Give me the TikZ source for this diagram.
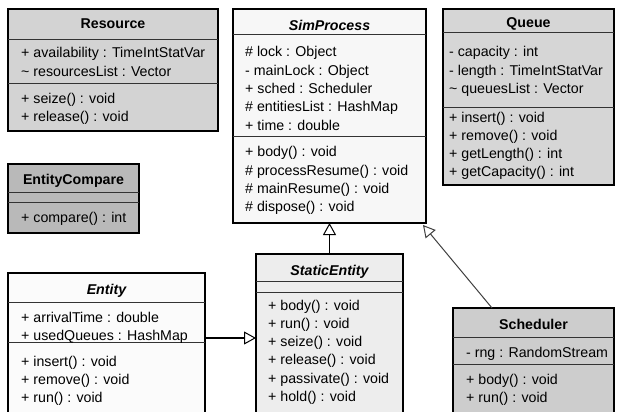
\documentclass[tikz,border=0pt]{standalone}
\usepackage{fontspec}
\setmainfont{Liberation Sans}
\usetikzlibrary{arrows.meta}
\definecolor{gA}{HTML}{D3D3D3}
\definecolor{gQ}{HTML}{D6D6D6}
\definecolor{gE}{HTML}{B9B9B9}
\definecolor{gS}{HTML}{CDCDCD}
\definecolor{wS}{HTML}{F7F7F7}
\definecolor{wT}{HTML}{EDEDED}
\definecolor{wE}{HTML}{FBFBFB}
\tikzset{
  classbox/.style={draw=black, line width=1.7pt, inner sep=0pt, outer sep=0pt, anchor=north west},
  sep/.style={draw=black!80, line width=0.9pt},
  txt/.style={inner sep=0pt, anchor=base west, font=\fontsize{14.2}{16}\selectfont},
  hdr/.style={inner sep=0pt, anchor=base, font=\fontsize{14.2}{16}\selectfont\bfseries},
  ahdr/.style={hdr, font=\fontsize{14.2}{16}\selectfont\bfseries\itshape},
  inh/.style={draw=black, line width=1.4pt, -{Triangle[open, length=12pt, width=13pt, line width=1pt]}},
}
\newcommand\mlist[4]{\foreach \t [count=\i] in {#4} {\node[txt] (#3\i) at (#1,{-#2-(\i-1)*18.3}) {\t};}}
\newcommand\umlbox[7]{% name, x1, y1, x2, y2, fill, -
  \node[classbox, fill=#6, minimum width={#4-#2}, minimum height={#5-#3}] (#1) at (#2,-#3) {};}
\begin{document}
\begin{tikzpicture}[x=1pt, y=1pt]
\clip (0,0) rectangle (619,-412);
\fill[white] (0,0) rectangle (619,-412);

% Resource
\umlbox{res}{8}{9}{218}{131}{gA}{}
\draw[sep] (8,-39) -- (218,-39);
\draw[sep] (8,-83) -- (218,-83);
\node[hdr] (resh) at (113,-29) {Resource};
\mlist{21}{58}{resa}{{+ availability : TimeIntStatVar},{\textasciitilde\ resourcesList : Vector}}
\mlist{21}{103}{resm}{{+ seize() : void},{+ release() : void}}

% SimProcess
\umlbox{sim}{233}{9}{426}{223}{wS}{}
\draw[sep] (233,-34) -- (426,-34);
\draw[sep] (233,-136) -- (426,-136);
\node[ahdr] (simh) at (329.5,-31) {SimProcess};
\mlist{245}{57}{sima}{{\# lock : Object},{- mainLock : Object},{+ sched : Scheduler},{\# entitiesList : HashMap},{+ time : double}}
\mlist{245}{157}{simm}{{+ body() : void},{\# processResume() : void},{\# mainResume() : void},{\# dispose() : void}}

% Queue
\umlbox{que}{443}{9}{614}{185}{gQ}{}
\draw[sep] (443,-32) -- (614,-32);
\draw[sep] (443,-107) -- (614,-107);
\node[hdr] (queh) at (528.5,-28) {Queue};
\mlist{449}{57}{quea}{{- capacity : int},{- length : TimeIntStatVar},{\textasciitilde\ queuesList : Vector}}
\mlist{449}{122}{quem}{{+ insert() : void},{+ remove() : void},{+ getLength() : int},{+ getCapacity() : int}}

% EntityCompare
\umlbox{ecmp}{8}{164}{139}{233}{gE}{}
\draw[sep] (8,-192) -- (139,-192);
\draw[sep] (8,-202) -- (139,-202);
\node[hdr] (ecmph) at (73.5,-184) {EntityCompare};
\mlist{21}{222}{ecmpm}{{+ compare() : int}}

% Entity
\umlbox{ent}{8}{273}{205}{416}{wE}{}
\draw[sep] (8,-302) -- (205,-302);
\draw[sep] (8,-342) -- (205,-342);
\node[ahdr] (enth) at (106.5,-294) {Entity};
\mlist{21}{322}{enta}{{+ arrivalTime : double},{+ usedQueues : HashMap}}
\mlist{21}{366}{entm}{{+ insert() : void},{+ remove() : void},{+ run() : void}}

% StaticEntity
\umlbox{sta}{256}{254}{403}{416}{wT}{}
\draw[sep] (256,-281) -- (403,-281);
\draw[sep] (256,-292) -- (403,-292);
\node[ahdr] (stah) at (329.5,-275) {StaticEntity};
\mlist{268}{310}{stam}{{+ body() : void},{+ run() : void},{+ seize() : void},{+ release() : void},{+ passivate() : void},{+ hold() : void}}

% Scheduler
\umlbox{sch}{453}{308}{614}{416}{gS}{}
\draw[sep] (453,-337) -- (614,-337);
\draw[sep] (453,-364) -- (614,-364);
\node[hdr] (schh) at (533.5,-329) {Scheduler};
\mlist{466}{357}{scha}{{- rng : RandomStream}}
\mlist{466}{384}{schm}{{+ body() : void},{+ run() : void}}

% Inheritance
\draw[inh] (sta.north) -- (sim.south);
\draw[inh] ([yshift=6.5pt]ent.east) -- ([yshift=6.5pt]ent.east -| sta.west);
\draw[inh, draw=black!75, line width=1pt] ([xshift=-41.5pt]sch.north) -- ([xshift=-3pt,yshift=-2pt]sim.south east);
\end{tikzpicture}
\end{document}
